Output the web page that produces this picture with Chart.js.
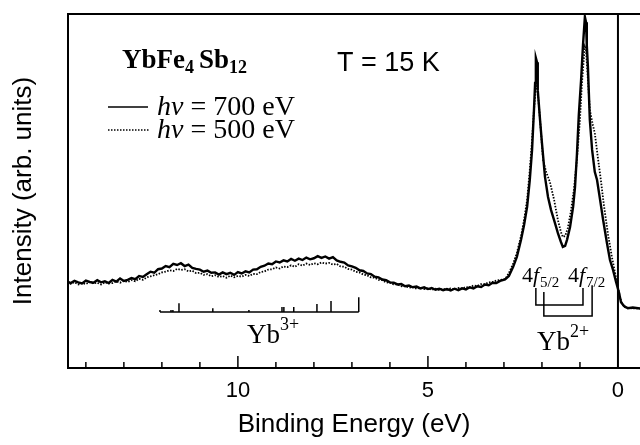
<!DOCTYPE html>
<html>
<head>
<meta charset="utf-8">
<script src="https://cdn.jsdelivr.net/npm/chart.js@4.4.1/dist/chart.umd.min.js"></script>
<style>
  html, body { margin: 0; padding: 0; background: #fff; }
  canvas { display: block; }
</style>
</head>
<body>
<canvas id="c" width="640" height="445"></canvas>
<script>
// ---------------- DATA ----------------
const energyBackground = [
  14.5,14.4,14.3,14.2,14.1,14.0,13.9,13.8,13.7,13.6,
  13.5,13.4,13.3,13.2,13.1,13.0,12.9,12.8,12.7,12.6,
  12.5,12.4,12.3,12.2,12.1,12.0,11.9,11.8,11.7,11.6,
  11.5,11.4,11.3,11.2,11.1,11.0,10.9,10.8,10.7,10.6,
  10.5,10.4,10.3,10.2,10.1,10.0,9.9,9.8,9.7,9.6,
  9.5,9.4,9.3,9.2,9.1,9.0,8.9,8.8,8.7,8.6,
  8.5,8.4,8.3,8.2,8.1,8.0,7.9,7.8,7.7,7.6,
  7.5,7.4,7.3,7.2,7.1,7.0,6.9,6.8,6.7,6.6,
  6.5,6.4,6.3,6.2,6.1,6.0,5.9,5.8,5.7,5.6,
  5.5,5.4,5.3,5.2,5.1,5.0,4.9,4.8,4.7,4.6,
  4.5,4.4,4.3,4.2,4.1,4.0,3.9,3.8,3.7,3.6,
  3.5,3.4,3.3,3.2,3.1
];
const intensityBackground700 = [
  24.5,24.0,24.6,24.2,23.9,24.7,24.3,24.1,24.8,24.2,
  24.5,24.0,24.9,24.4,25.3,24.6,24.9,25.4,25.1,26.0,
  25.7,26.5,27.2,26.9,27.9,28.1,28.8,28.5,29.4,29.1,
  29.6,28.8,29.2,28.3,28.0,27.8,27.2,27.5,26.9,27.0,
  26.4,27.0,26.5,26.9,26.3,27.1,26.7,27.3,27.0,27.8,
  27.9,28.6,28.9,29.5,29.3,30.1,29.8,30.4,30.1,30.8,
  30.3,30.9,30.5,31.2,30.7,31.0,31.6,31.1,31.5,30.9,
  31.3,30.4,30.0,29.8,29.0,28.7,28.3,27.6,27.4,26.7,
  26.5,25.8,25.6,25.0,24.8,24.2,24.1,23.6,23.7,23.1,
  23.3,22.8,23.0,22.5,22.8,22.3,22.6,22.1,22.4,22.0,
  22.3,21.9,22.4,22.0,22.5,22.2,22.8,22.5,23.1,22.9,
  23.6,23.4,24.1,24.0,24.6
];
const intensityBackground500 = [
  24.1,23.8,24.2,23.6,24.0,23.7,24.3,23.9,24.1,23.6,
  24.2,23.9,24.0,24.5,24.1,24.6,24.3,24.8,24.5,25.2,
  24.9,25.6,25.9,26.2,26.5,27.0,27.2,27.6,27.4,28.0,
  27.7,27.9,27.3,27.5,26.8,26.9,26.3,26.5,25.9,26.2,
  25.7,26.0,25.5,26.1,25.6,26.0,25.8,26.3,26.0,26.6,
  26.5,27.1,27.3,27.8,27.9,28.4,28.1,28.7,28.5,29.0,
  28.6,29.3,28.9,29.5,29.1,29.6,29.3,29.8,29.5,29.7,
  29.2,29.4,28.7,28.6,28.0,27.8,27.2,27.0,26.4,26.2,
  25.6,25.5,24.9,24.8,24.2,24.1,23.6,23.6,23.1,23.2,
  22.7,22.9,22.4,22.7,22.3,22.5,22.1,22.4,22.0,22.4,
  22.1,22.5,22.2,22.6,22.4,22.9,22.7,23.3,23.2,23.7,
  23.7,24.2,24.3,24.7,24.9
];
const energyPeaks700 = [
  2.97,2.87,2.76,2.66,2.55,2.47,2.39,2.32,2.26,2.21,2.18,2.16,2.13,2.11,2.05,2.00,
  1.92,1.84,1.76,1.68,1.58,1.50,1.45,1.39,1.34,1.26,1.18,1.13,1.08,1.03,0.97,0.92,
  0.87,0.84,0.82,0.79,0.74,0.68,0.61,0.55,0.47,0.39,0.29,0.21,0.13,0.05,-0.03,-0.08,
  -0.16,-0.26,-0.39,-0.58
];
const intensityPeaks700 = [
  25.0,26.0,28.5,31.4,36.2,40.4,45.5,53.1,61.6,72.9,80.5,87.6,86.4,78.5,70.1,63.6,
  54.0,48.3,44.6,41.8,38.1,35.6,34.2,34.5,36.2,39.8,45.5,51.1,60.2,71.5,81.4,91.2,
  99.2,97.7,91.2,85.0,70.1,61.6,55.4,53.1,47.5,41.8,35.3,30.5,27.7,24.3,21.2,18.6,
  17.5,16.9,17.1,16.8
];
const energyPeaks500 = [
  2.97,2.87,2.76,2.66,2.55,2.47,2.39,2.32,2.26,2.21,2.16,2.13,2.11,2.05,1.97,1.89,
  1.79,1.68,1.58,1.50,1.45,1.39,1.32,1.24,1.16,1.08,1.00,0.95,0.89,0.87,0.84,0.79,
  0.74,0.66,0.61,0.53,0.45,0.37,0.26,0.16,0.08,0.00,-0.05,-0.11,-0.18,-0.32,-0.58
];
const intensityPeaks500 = [
  25.1,26.8,29.4,32.5,37.3,41.8,47.5,55.9,64.4,72.9,79.1,79.7,78.0,70.1,58.8,55.4,
  52.5,47.5,41.8,38.4,37.0,37.3,39.5,44.1,50.3,58.8,70.1,80.1,88.5,90.7,89.8,81.4,
  72.9,68.6,66.4,59.6,53.1,46.0,37.6,31.4,27.1,22.9,20.1,18.1,17.2,16.9,16.8
];
// Yb3+ final-state multiplet (positions in eV, relative heights)
const yb3Energies = [12.05, 11.76, 11.71, 11.55, 10.66, 9.71, 8.84, 8.79, 8.53, 7.92, 7.55, 6.82];
const yb3Heights  = [0.6, 0.6, 0.6, 2.5, 1.1, 0.6, 1.4, 1.4, 1.4, 2.3, 3.1, 4.2];
// Yb2+ 4f doublets (eV): [4f5/2, 4f7/2]
const yb2DoubletA = [2.16, 0.92];
const yb2DoubletB = [1.95, 0.68];
const xTickValues = [10, 5, 0];
const xMinorTickValues = [14,13,12,11,10,9,8,7,6,5,4,3,2,1];
const xMajorTickValues = [10, 5];
const fermiLevel = 0;
const xMin = -0.58, xMax = 14.47;
const yMin = 0, yMax = 100;

// ---------------- BUILD ----------------
function toPoints(ex, ey) { return ex.map((e, i) => ({ x: e, y: ey[i] })); }
const series700 = toPoints(energyBackground, intensityBackground700).concat(toPoints(energyPeaks700, intensityPeaks700));
const series500 = toPoints(energyBackground, intensityBackground500).concat(toPoints(energyPeaks500, intensityPeaks500));

const SERIF = '"Liberation Serif", "Times New Roman", Times, serif';
const SANS = '"Liberation Sans", Arial, Helvetica, sans-serif';

function runs(ctx, x, y, parts) {
  let cx = x;
  for (const p of parts) {
    ctx.font = p.font;
    ctx.fillText(p.t, cx, y + (p.dy || 0));
    cx += ctx.measureText(p.t).width + (p.gap || 0);
  }
}
function seg(ctx, x1, y1, x2, y2) {
  ctx.beginPath(); ctx.moveTo(x1, y1); ctx.lineTo(x2, y2); ctx.stroke();
}

const annotate = {
  id: 'annotate',
  afterDraw(chart) {
    const { ctx, chartArea: a, scales: { x, y } } = chart;
    ctx.save();
    ctx.strokeStyle = '#000';
    ctx.fillStyle = '#000';
    ctx.lineCap = 'butt';
    // top frame line
    ctx.lineWidth = 2;
    seg(ctx, a.left - 1, a.top, a.right, a.top);
    // Fermi level line
    const xf = x.getPixelForValue(fermiLevel);
    seg(ctx, xf, a.top, xf, a.bottom);
    // inward tick marks
    ctx.lineWidth = 1.5;
    xMinorTickValues.forEach(v => {
      const px = x.getPixelForValue(v);
      const len = xMajorTickValues.includes(v) ? 12 : 6;
      seg(ctx, px, a.bottom, px, a.bottom - len);
    });
    // Yb3+ comb
    const combBase = 15.8;
    const yb = y.getPixelForValue(combBase);
    const cx1 = x.getPixelForValue(yb3Energies[0]);
    const cx2 = x.getPixelForValue(yb3Energies[yb3Energies.length - 1]);
    ctx.lineWidth = 1.5;
    seg(ctx, cx1, yb, cx2, yb);
    yb3Energies.forEach((e, i) => {
      const px = x.getPixelForValue(e);
      seg(ctx, px, yb, px, y.getPixelForValue(combBase + yb3Heights[i]));
    });
    ctx.textBaseline = 'alphabetic';
    ctx.textAlign = 'left';
    runs(ctx, 247, 343, [
      { t: 'Yb', font: `27px ${SERIF}` },
      { t: '3+', font: `18px ${SERIF}`, dy: -13 }
    ]);
    // Yb2+ brackets
    const ax1 = x.getPixelForValue(yb2DoubletA[0]), ax2 = x.getPixelForValue(yb2DoubletA[1]);
    const bx1 = x.getPixelForValue(yb2DoubletB[0]), bx2 = x.getPixelForValue(yb2DoubletB[1]);
    const aTop = y.getPixelForValue(22.6), aBot = y.getPixelForValue(17.8);
    const bTopL = y.getPixelForValue(21.5), bTopR = y.getPixelForValue(23.4), bBot = y.getPixelForValue(14.7);
    ctx.lineWidth = 1.5;
    ctx.beginPath();
    ctx.moveTo(ax1, aTop); ctx.lineTo(ax1, aBot); ctx.lineTo(ax2, aBot); ctx.lineTo(ax2, aTop);
    ctx.stroke();
    ctx.beginPath();
    ctx.moveTo(bx1, bTopL); ctx.lineTo(bx1, bBot); ctx.lineTo(bx2, bBot); ctx.lineTo(bx2, bTopR);
    ctx.stroke();
    runs(ctx, 522, 282, [
      { t: '4', font: `22px ${SERIF}` },
      { t: 'f', font: `italic 22px ${SERIF}`, gap: 1 },
      { t: '5/2', font: `15px ${SERIF}`, dy: 5 }
    ]);
    runs(ctx, 568, 282, [
      { t: '4', font: `22px ${SERIF}` },
      { t: 'f', font: `italic 22px ${SERIF}`, gap: 1 },
      { t: '7/2', font: `15px ${SERIF}`, dy: 5 }
    ]);
    runs(ctx, 537, 350, [
      { t: 'Yb', font: `27px ${SERIF}` },
      { t: '2+', font: `18px ${SERIF}`, dy: -13 }
    ]);
    // compound and temperature
    runs(ctx, 122, 68, [
      { t: 'YbFe', font: `bold 27px ${SERIF}` },
      { t: '4', font: `bold 18px ${SERIF}`, dy: 5, gap: 5 },
      { t: 'Sb', font: `bold 27px ${SERIF}` },
      { t: '12', font: `bold 18px ${SERIF}`, dy: 5 }
    ]);
    ctx.font = `27px ${SANS}`;
    ctx.fillText('T = 15 K', 337, 71);
    // legend
    ctx.lineWidth = 1.5;
    seg(ctx, 108, 107, 148, 107);
    ctx.setLineDash([1.5, 1.5]);
    seg(ctx, 108, 130, 150, 130);
    ctx.setLineDash([]);
    runs(ctx, 157, 115, [
      { t: 'hν', font: `italic 28px ${SERIF}` },
      { t: ' = 700 eV', font: `28px ${SERIF}` }
    ]);
    runs(ctx, 157, 138, [
      { t: 'hν', font: `italic 28px ${SERIF}` },
      { t: ' = 500 eV', font: `28px ${SERIF}` }
    ]);
    ctx.restore();
  }
};

new Chart(document.getElementById('c'), {
  type: 'line',
  data: {
    datasets: [
      { label: 'hν = 700 eV', data: series700, borderColor: '#000', borderWidth: 2.4, pointRadius: 0, tension: 0, fill: false },
      { label: 'hν = 500 eV', data: series500, borderColor: '#000', borderWidth: 1.8, borderDash: [1.5, 1.5], pointRadius: 0, tension: 0, fill: false }
    ]
  },
  options: {
    responsive: false,
    animation: false,
    devicePixelRatio: 1,
    layout: { padding: { left: 0, right: 0, top: 14, bottom: 0 } },
    plugins: { legend: { display: false }, tooltip: { enabled: false } },
    scales: {
      x: {
        type: 'linear',
        reverse: true,
        min: xMin,
        max: xMax,
        afterBuildTicks: s => { s.ticks = xTickValues.map(v => ({ value: v })); },
        afterFit: s => { s.height = 77; },
        ticks: { font: { family: SANS, size: 22 }, color: '#000', padding: 10, maxRotation: 0, autoSkip: false, callback: v => String(v) },
        grid: { display: false, drawTicks: false },
        border: { display: true, color: '#000', width: 2 },
        title: { display: true, text: 'Binding Energy (eV)', font: { family: SANS, size: 26 }, color: '#000', padding: { top: 5, bottom: 4.4 } }
      },
      y: {
        type: 'linear',
        min: yMin,
        max: yMax,
        afterFit: s => { s.width = 68; },
        ticks: { display: false },
        grid: { display: false, drawTicks: false },
        border: { display: true, color: '#000', width: 2 },
        title: { display: true, text: 'Intensity (arb. units)', font: { family: SANS, size: 26 }, color: '#000', padding: { top: 8.4, bottom: 28.4 } }
      }
    }
  },
  plugins: [annotate]
});
</script>
</body>
</html>
